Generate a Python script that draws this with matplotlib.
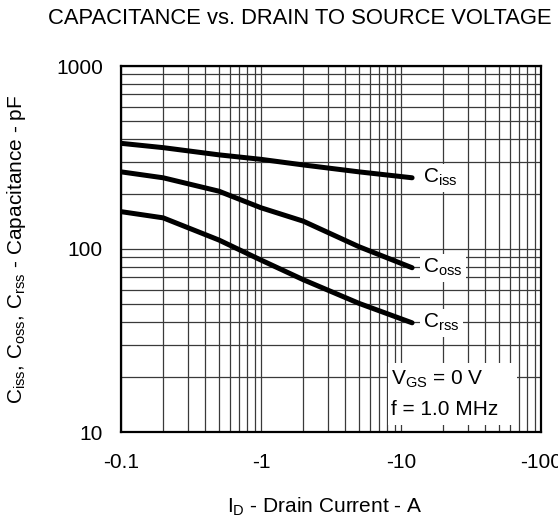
import matplotlib
matplotlib.use('Agg')
import matplotlib.pyplot as plt
from matplotlib.patches import Rectangle

plt.rcParams['font.family'] = ['Liberation Sans', 'DejaVu Sans']
plt.rcParams['mathtext.fontset'] = 'custom'
plt.rcParams['mathtext.rm'] = 'Liberation Sans'
plt.rcParams['mathtext.it'] = 'Liberation Sans'

# drain current (A, magnitude) and capacitances (pF)
drain_current = [0.1, 0.2, 0.5, 1, 2, 5, 12]
c_iss = [378, 358, 327, 309, 288, 264, 245]
c_oss = [264, 245, 207, 168, 142, 103, 79]
c_rss = [160, 148, 112, 87, 68, 50.5, 39.5]

curve_names = [r'C$_{\rm iss}$', r'C$_{\rm oss}$', r'C$_{\rm rss}$']
x_ticks = [0.1, 1, 10, 100]
x_tick_labels = ['-0.1', '-1', '-10', '-100']
y_ticks = [10, 100, 1000]
y_tick_labels = ['10', '100', '1000']

fs = 15

fig = plt.figure(figsize=(5.58, 5.2), dpi=100)
ax = fig.add_axes([121/558., 1 - 432/520., 420/558., 366/520.])

ax.set_xscale('log')
ax.set_yscale('log')
ax.set_xlim(0.1, 100)
ax.set_ylim(10, 1000)

ax.grid(True, which='both', color='#3a3a3a', linewidth=0.9)
ax.set_axisbelow(True)

for vals, name in zip([c_iss, c_oss, c_rss], curve_names):
  ax.plot(drain_current, vals, color='black', linewidth=3.6, solid_capstyle='round', zorder=3)
  ax.annotate(name, xy=(drain_current[-1], vals[-1]), xytext=(8, 0),
              textcoords='offset points', va='center', ha='left', fontsize=fs,
              bbox=dict(facecolor='white', edgecolor='none', pad=2.5), zorder=4)

# conditions box
ax.add_patch(Rectangle((0.636, 0.019), 0.307, 0.170, transform=ax.transAxes,
                       facecolor='white', edgecolor='none', zorder=4))
ax.text(0.643, 0.128, r'V$_{\rm GS}$ = 0 V', transform=ax.transAxes,
        fontsize=fs, va='baseline', ha='left', zorder=5)
ax.text(0.643, 0.046, 'f = 1.0 MHz', transform=ax.transAxes,
        fontsize=fs, va='baseline', ha='left', zorder=5)

ax.set_xticks(x_ticks)
ax.set_xticklabels(x_tick_labels)
ax.set_yticks(y_ticks)
ax.set_yticklabels(y_tick_labels)
ax.tick_params(which='both', length=0, labelsize=fs)
ax.tick_params(axis='x', pad=15)
ax.tick_params(axis='y', pad=13)

for s in ax.spines.values():
  s.set_linewidth(1.6)
  s.set_zorder(6)

ax.set_ylabel(r'C$_{\rm iss}$, C$_{\rm oss}$, C$_{\rm rss}$ - Capacitance - pF', fontsize=fs)
ax.yaxis.set_label_coords(-0.222, 0.5)
fig.text(325/558., 1 - 507/520., r'I$_{\rm D}$ - Drain Current - A', fontsize=fs, ha='center', va='center')
fig.text(300/558., 1 - 18.5/520., 'CAPACITANCE vs. DRAIN TO SOURCE VOLTAGE', fontsize=15.8, ha='center', va='center')

plt.savefig('out.png', dpi=100)
plt.close()
